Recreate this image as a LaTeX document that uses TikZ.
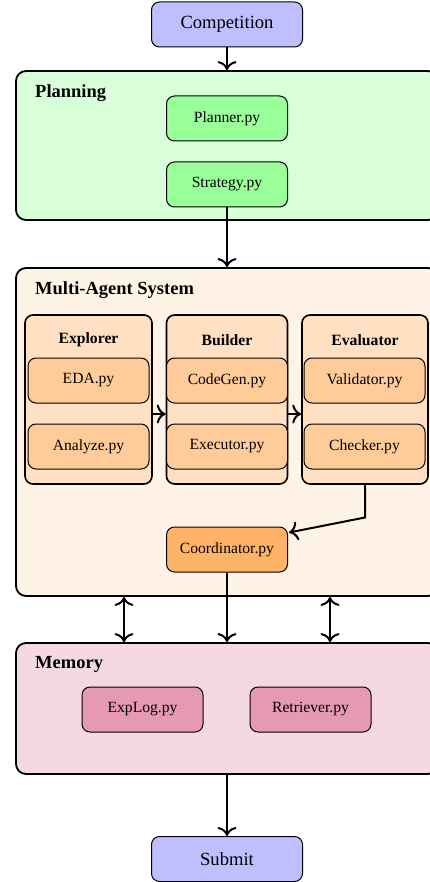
\documentclass[tikz,border=0pt]{standalone}
\usepackage{fontspec}
\setmainfont{Liberation Serif}
\usetikzlibrary{arrows.meta}
\definecolor{ioblue}{HTML}{BFBFFF}
\definecolor{planbg}{HTML}{D9FFD9}
\definecolor{plangreen}{HTML}{99FF99}
\definecolor{masbg}{HTML}{FFF2E6}
\definecolor{agentbg}{HTML}{FFE0C2}
\definecolor{modorange}{HTML}{FFCC99}
\definecolor{coordorange}{HTML}{FFB366}
\definecolor{membg}{HTML}{F5D9E2}
\definecolor{mempink}{HTML}{E699B3}
\tikzset{
  bigbox/.style={draw, line width=1.8pt, rounded corners=10pt, minimum width=422pt, inner sep=0pt},
  iobox/.style={draw, line width=1pt, rounded corners=8pt, fill=ioblue, minimum width=151pt, minimum height=45pt, inner sep=0pt, font=\rmfamily\fontsize{18.6}{20}\selectfont},
  modbox/.style={draw, line width=1pt, rounded corners=8pt, minimum width=121pt, minimum height=45pt, inner sep=0pt, font=\rmfamily\fontsize{15.6}{18}\selectfont},
  agentbox/.style={draw, line width=1.6pt, rounded corners=8pt, fill=agentbg, minimum height=169pt, inner sep=0pt},
  titletext/.style={font=\rmfamily\bfseries\fontsize{18.5}{20}\selectfont, anchor=west, inner sep=0pt},
  agenttitle/.style={font=\rmfamily\bfseries\fontsize{15.7}{18}\selectfont, inner sep=0pt},
  tipstyle/.style={},
  arr/.style={line width=2pt, -{Computer Modern Rightarrow[length=9pt,width=19pt,line width=2pt]}},
  arrboth/.style={line width=2pt, {Computer Modern Rightarrow[length=9pt,width=19pt,line width=2pt]}-{Computer Modern Rightarrow[length=9pt,width=19pt,line width=2pt]}},
}
\begin{document}
\begin{tikzpicture}[x=1pt,y=-1pt]
\useasboundingbox (0,0) rectangle (430,882);
% top
\node[iobox] (comp) at (227,24.5) {Competition};
% planning
\node[bigbox, fill=planbg, minimum height=149pt] (plan) at (227,145.5) {};
\node[titletext] (plantitle) at (35,93) {Planning};
\node[modbox, fill=plangreen] (planner) at (227,118.5) {Planner.py};
\node[modbox, fill=plangreen] (strat) at (227,184.5) {Strategy.py};
% multi-agent
\node[bigbox, fill=masbg, minimum height=328pt] (mas) at (227,432) {};
\node[titletext] (mastitle) at (35,290) {Multi-Agent System};
\node[agentbox, minimum width=127pt] (explorer) at (88.5,399.5) {};
\node[agentbox, minimum width=121pt] (builder) at (227,399.5) {};
\node[agentbox, minimum width=126pt] (evaluator) at (365,399.5) {};
\node[agenttitle] (exptitle) at (88.5,340) {Explorer};
\node[agenttitle] (buitle) at (227,340) {Builder};
\node[agenttitle] (evtitle) at (365,340) {Evaluator};
\node[modbox, fill=modorange] (eda) at (88.5,380.5) {EDA.py};
\node[modbox, fill=modorange] (analyze) at (88.5,446.5) {Analyze.py};
\node[modbox, fill=modorange] (codegen) at (227,380.5) {CodeGen.py};
\node[modbox, fill=modorange] (executor) at (227,446.5) {Executor.py};
\node[modbox, fill=modorange] (validator) at (364.5,380.5) {Validator.py};
\node[modbox, fill=modorange] (checker) at (364.5,446.5) {Checker.py};
\node[modbox, fill=coordorange] (coord) at (227,549.5) {Coordinator.py};
% memory
\node[bigbox, fill=membg, minimum height=131pt] (mem) at (227,708.5) {};
\node[titletext] (memtitle) at (35,664) {Memory};
\node[modbox, fill=mempink] (explog) at (142.5,709.5) {ExpLog.py};
\node[modbox, fill=mempink] (retriever) at (310.5,709.5) {Retriever.py};
% submit
\node[iobox] (submit) at (227,859) {Submit};
% connectors
\draw[arr] (comp.south) -- (comp.south |- plan.north);
\draw[arr] (strat.south) -- (strat.south |- mas.north);
\draw[arr] ([yshift=-14.5pt]explorer.east) -- ([yshift=-14.5pt]builder.west);
\draw[arr] ([yshift=-14.5pt]builder.east) -- ([yshift=-14.5pt]evaluator.west);
\draw[arr] (evaluator.south) -- ++(0,32.7) -- ([yshift=-6pt,xshift=1pt]coord.north east);
\draw[arr] (coord.south) -- (coord.south |- mem.north);
\draw[arrboth] ([xshift=-103pt]mas.south) -- ([xshift=-103pt]mem.north);
\draw[arrboth] ([xshift=103pt]mas.south) -- ([xshift=103pt]mem.north);
\draw[arr] (mem.south -| submit.north) -- (submit.north);
\end{tikzpicture}
\end{document}
